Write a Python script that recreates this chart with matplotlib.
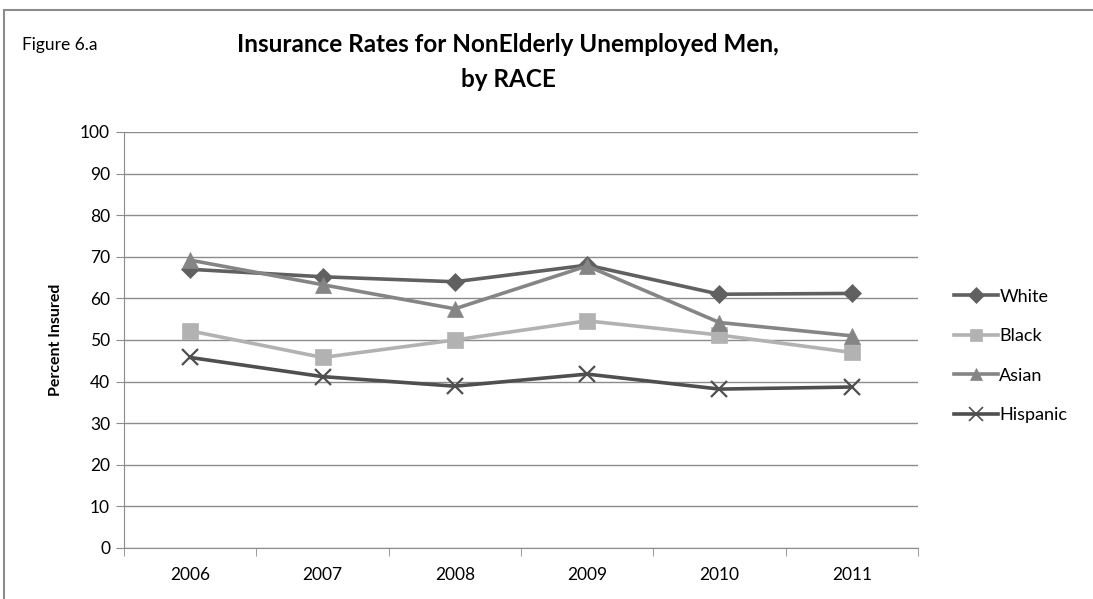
# 인종별 비고령 실업 남성 보험 가입률 (Figure 6.a) 재현

import matplotlib.pyplot as plt
from matplotlib.patches import Rectangle
from matplotlib.lines import Line2D

plt.rcParams['font.family'] = ['Lato', 'DejaVu Sans']

# 데이터
years = ['2006', '2007', '2008', '2009', '2010', '2011']
white = [67.0, 65.2, 64.0, 68.0, 61.0, 61.2]
black = [52.2, 45.8, 50.0, 54.6, 51.2, 47.0]
asian = [69.2, 63.3, 57.5, 67.8, 54.2, 51.0]
hispanic = [45.8, 41.2, 38.9, 41.8, 38.2, 38.7]

series_names = ['White', 'Black', 'Asian', 'Hispanic']
series_values = [white, black, asian, hispanic]
colors = ['#606060', '#b2b2b2', '#858585', '#4f4f4f']
markers = ['D', 's', '^', 'x']
msizes = [9, 11, 11, 12]

fig = plt.figure(figsize=(10.93, 5.99), dpi=100)
ax = fig.add_axes([124 / 1093, 1 - 548 / 599, (918 - 124) / 1093, (548 - 132) / 599])

# 바깥 테두리
fig.patches.append(Rectangle((4 / 1093, -0.1), 1.2, 1 - 10 / 599 + 0.1,
                             transform=fig.transFigure, fill=False,
                             edgecolor='#8c8c8c', linewidth=1.5))

x = list(range(len(years)))
for name, vals, c, m, ms in zip(series_names, series_values, colors, markers, msizes):
    ax.plot(x, vals, color=c, linewidth=2.6, marker=m, markersize=ms,
            markeredgewidth=1.6 if m == 'x' else 0.5, markeredgecolor=c,
            markerfacecolor=c, label=name, zorder=3)

ax.set_xlim(-0.5, len(years) - 0.5)
ax.set_ylim(0, 100)
ax.set_yticks(range(0, 101, 10))
ax.set_xticks(x)
ax.set_xticklabels(years)
ax.set_xticks([i - 0.5 for i in range(len(years) + 1)], minor=True)
ax.tick_params(axis='x', which='major', length=0, pad=14, labelsize=12.5)
ax.tick_params(axis='x', which='minor', length=6, color='#8c8c8c')
ax.tick_params(axis='y', length=6, color='#8c8c8c', labelsize=12.5, pad=4)

ax.grid(axis='y', color='#8c8c8c', linewidth=1.0)
ax.set_axisbelow(True)
for s in ['top', 'right']:
    ax.spines[s].set_visible(False)
ax.spines['left'].set_color('#8c8c8c')
ax.spines['bottom'].set_color('#8c8c8c')

ax.set_ylabel('Percent Insured', fontsize=11.5, fontweight='bold', labelpad=12)

fig.text(508 / 1093, 1 - 62 / 599, 'Insurance Rates for NonElderly Unemployed Men,\nby RACE',
         ha='center', va='center', fontsize=17.5, fontweight='bold', linespacing=1.65)
fig.text(22 / 1093, 1 - 45 / 599, 'Figure 6.a', ha='left', va='center', fontsize=12.5)

handles = [Line2D([], [], color=c, linewidth=2.6, marker=m, markersize=ms * 0.85,
                  markeredgecolor=c, markerfacecolor=c,
                  markeredgewidth=1.2 if m == 'x' else 0.5)
           for c, m, ms in zip(colors, markers, msizes)]
fig.legend(handles, series_names, loc='center left',
           bbox_to_anchor=(938 / 1093, 1 - 356 / 599), frameon=False,
           fontsize=13, handlelength=2.4, handletextpad=0.1, labelspacing=1.3)

fig.savefig('out.png', dpi=100)
